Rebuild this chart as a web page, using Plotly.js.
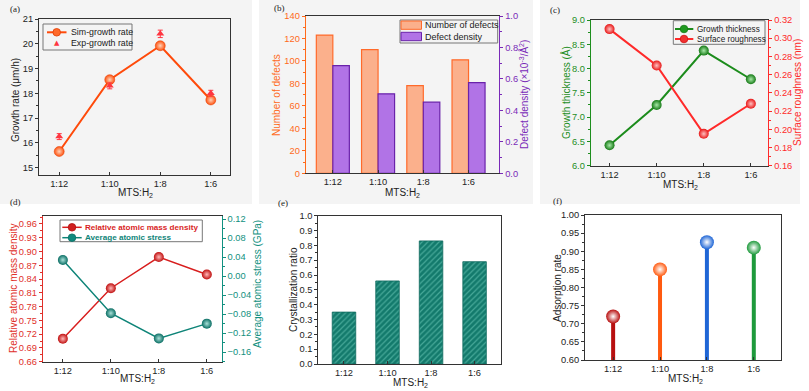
<!DOCTYPE html>
<html><head><meta charset="utf-8">
<script src="https://cdn.plot.ly/plotly-3.0.1.min.js"></script>
<style>html,body{margin:0;padding:0;background:#fff}#chart{width:809px;height:391px}</style>
</head><body><div id="chart"></div>
<script>
// ---------- data ----------
const categories = ['1:12', '1:10', '1:8', '1:6'];
// (a)
const simGrowthRate = [15.65, 18.55, 19.92, 17.73];
const expGrowthRate = [16.25, 18.3, 20.4, 18.0];
const expGrowthErr = [0.12, 0.12, 0.15, 0.12];
// (b)
const numberOfDefects = [123, 110, 78, 101];
const defectDensity = [0.685, 0.505, 0.452, 0.576];
// (c)
const growthThickness = [6.42, 7.25, 8.37, 7.78];
const surfaceRoughness = [0.310, 0.270, 0.195, 0.228];
// (d)
const relMassDensity = [0.710, 0.820, 0.888, 0.850];
const avgAtomicStress = [0.034, -0.078, -0.131, -0.100];
// (e)
const crystallizationRatio = [0.35, 0.56, 0.83, 0.69];
// (f)
const adsorptionRate = [0.72, 0.85, 0.925, 0.91];

// ---------- helpers ----------
const W = 809, H = 391;
const px = (a, b) => [a / W, b / W];
const py = (top, bottom) => [1 - bottom / H, 1 - top / H];
const FONT = 'Liberation Sans, Arial, sans-serif';
const tickF = (c) => ({family: FONT, size: 9.3, color: c || '#222'});
const XT = 'MTS:H<sub>2</sub>';

function xax(dom, anchor, range) {
  return {domain: dom, anchor: anchor, type: 'category', range: range,
    showline: true, linecolor: '#333', linewidth: 1, mirror: true,
    ticks: 'inside', ticklen: 3, tickcolor: '#333', tickfont: tickF(),
    showgrid: false, zeroline: false, automargin: false};
}
function yax(dom, anchor, range, dtick, fmt, color, side, mirror, overlay, tick0) {
  const o = {domain: dom, anchor: anchor, range: range, dtick: dtick, tick0: tick0 !== undefined ? tick0 : range[0],
    tickformat: fmt, showline: true, linecolor: color || '#333', linewidth: 1, mirror: mirror || false,
    ticks: 'outside', ticklen: 3, tickcolor: color || '#333', tickfont: tickF(color),
    minor: {ticks: 'outside', ticklen: 2, tickcolor: color || '#333', dtick: dtick / 2, showgrid: false},
    showgrid: false, zeroline: false, automargin: false, side: side || 'left'};
  if (overlay) o.overlaying = overlay;
  return o;
}

const traces = [];
// (a)
traces.push({x: categories, y: simGrowthRate, xaxis: 'x', yaxis: 'y', type: 'scatter', mode: 'lines+markers',
  name: 'Sim-growth rate',
  line: {color: '#ff4a0a', width: 2},
  marker: {size: 10, color: '#ff520f', line: {color: '#e03a00', width: 0.5}, gradient: {type: 'radial', color: '#ffd2b8'}}});
traces.push({x: categories, y: expGrowthRate, xaxis: 'x', yaxis: 'y', type: 'scatter', mode: 'markers',
  name: 'Exp-growth rate',
  marker: {symbol: 'triangle-up', size: 7, color: '#ff3540'},
  error_y: {type: 'data', array: expGrowthErr, visible: true, color: '#ff3540', thickness: 1, width: 2.5}});
// (b)
traces.push({x: categories, y: numberOfDefects, xaxis: 'x2', yaxis: 'y2', type: 'bar', name: 'Number of defects',
  offsetgroup: '1', marker: {color: '#fbb08c', line: {color: '#ff6a2a', width: 1.2}}});
traces.push({x: categories, y: defectDensity, xaxis: 'x2', yaxis: 'y3', type: 'bar', name: 'Defect density',
  offsetgroup: '2', marker: {color: '#b173e6', line: {color: '#6a22aa', width: 1.2}}});
// (c)
traces.push({x: categories, y: growthThickness, xaxis: 'x3', yaxis: 'y4', type: 'scatter', mode: 'lines+markers',
  name: 'Growth thickness', line: {color: '#1c8c1c', width: 2},
  marker: {size: 10, color: '#157a15', gradient: {type: 'radial', color: '#a8e8a8'}}});
traces.push({x: categories, y: surfaceRoughness, xaxis: 'x3', yaxis: 'y5', type: 'scatter', mode: 'lines+markers',
  name: 'Surface roughness', line: {color: '#ff2a2a', width: 2},
  marker: {size: 10, color: '#e81818', gradient: {type: 'radial', color: '#ffc0c0'}}});
// (d)
traces.push({x: categories, y: relMassDensity, xaxis: 'x4', yaxis: 'y6', type: 'scatter', mode: 'lines+markers',
  name: 'Relative atomic mass density', line: {color: '#d81e1e', width: 1.5},
  marker: {size: 10, color: '#c01010', gradient: {type: 'radial', color: '#ffb8b8'}}});
traces.push({x: categories, y: avgAtomicStress, xaxis: 'x4', yaxis: 'y7', type: 'scatter', mode: 'lines+markers',
  name: 'Average atomic stress', line: {color: '#0e8478', width: 1.5},
  marker: {size: 10, color: '#0a6e64', gradient: {type: 'radial', color: '#a8e0d8'}}});
// (e)
traces.push({x: categories, y: crystallizationRatio, xaxis: 'x5', yaxis: 'y8', type: 'bar', width: 0.54,
  marker: {color: '#137a6c', line: {color: '#0f6a5e', width: 0.8},
    pattern: {shape: '/', fgcolor: '#46a898', bgcolor: '#137a6c', size: 4, solidity: 0.3}}});
// (f)
const fColors = ['#b80f0f', '#ff5a10', '#1f66d6', '#1e9a3c'];
traces.push({x: categories, y: adsorptionRate, xaxis: 'x6', yaxis: 'y9', type: 'bar', width: 0.085,
  marker: {color: fColors}});
traces.push({x: categories, y: adsorptionRate, xaxis: 'x6', yaxis: 'y9', type: 'scatter', mode: 'markers',
  cliponaxis: false, marker: {size: 14, color: fColors, gradient: {type: 'radial', color: '#ffffff'}}});

// ---------- text helpers (pixel -> paper) ----------
const ann = [];
const shp = [];
function T(text, x, y, opts) {
  opts = opts || {};
  ann.push({text: text, x: x / W, y: 1 - y / H, xref: 'paper', yref: 'paper', showarrow: false,
    xanchor: opts.xa || 'center', yanchor: 'middle', textangle: opts.angle || 0,
    font: {family: opts.family || FONT, size: opts.size || 10, color: opts.color || '#222'}});
}
function box(x0, y0, x1, y1, fill, line) {
  shp.push({type: 'rect', xref: 'paper', yref: 'paper', x0: x0 / W, x1: x1 / W, y0: 1 - y1 / H, y1: 1 - y0 / H,
    fillcolor: fill || 'rgba(0,0,0,0)', line: line || {width: 0}, layer: fill && !line ? 'below' : 'above'});
}
function seg(xa, xb, y, color, w) {
  shp.push({type: 'line', xref: 'paper', yref: 'paper', x0: xa / W, x1: xb / W, y0: 1 - y / H, y1: 1 - y / H,
    line: {color: color, width: w || 2}});
}
function dot(cx, cy, r, color, edge) {
  shp.push({type: 'circle', xref: 'paper', yref: 'paper', x0: (cx - r) / W, x1: (cx + r) / W,
    y0: 1 - (cy + r) / H, y1: 1 - (cy - r) / H, fillcolor: color, line: {color: edge || color, width: 0.8}});
}

// backgrounds of top row
box(0, 0, 252, 204, '#f4f4f4');
box(259, 0, 533, 204, '#f4f4f4');
box(540, 0, 800, 204, '#f4f4f4');

// panel labels
[['(a)', 8, 9], ['(b)', 272, 8], ['(c)', 548, 10], ['(d)', 8, 202], ['(e)', 276, 203], ['(f)', 551, 201]]
  .forEach(a => T(a[0], a[1], a[2], {xa: 'left', size: 9, family: 'Liberation Serif, serif'}));

// axis titles
T(XT, 135, 193); T(XT, 402, 193); T(XT, 680, 185);
T(XT, 137, 379); T(XT, 410, 383); T(XT, 685, 379);
T('Growth rate (μm/h)', 16, 100, {angle: -90});
T('Number of defects', 277, 95, {angle: -90, color: '#ff6a1a'});
T('Defect density (×10<sup>-3</sup>/Å<sup>2</sup>)', 524, 95, {angle: -90, color: '#7a2ab8'});
T('Growth thickness (Å)', 566, 93, {angle: -90, color: '#1e8e1e'});
T('Surface roughness (nm)', 797, 93, {angle: -90, color: '#ff2a2a'});
T('Relative atomic mass density', 13, 288, {angle: -90, color: '#e0302a'});
T('Average atomic stress (GPa)', 257, 284, {angle: -90, color: '#119080'});
T('Crystallization ratio', 293, 290, {angle: -90});
T('Adsorption rate', 557, 288, {angle: -90});

// legends
// (a)
box(43, 24, 132, 50, null, {color: '#777', width: 1});
seg(47, 66.5, 32.3, '#ff4a0a', 2); dot(56.7, 32.3, 3.8, '#ff6a2a', '#e03a00');
T('▲', 57.3, 42.5, {size: 7, color: '#ff3540', family: 'DejaVu Sans'});
T('Sim-growth rate', 68.5, 32.3, {xa: 'left', size: 8.8});
T('Exp-growth rate', 68.5, 42.7, {xa: 'left', size: 8.8});
// (b)
box(400, 20, 497.7, 43, null, {color: '#777', width: 1});
box(401, 21, 421.5, 29.3, '#fbb08c', {color: '#ff6a2a', width: 1});
box(401, 32.3, 421.5, 40.7, '#b173e6', {color: '#6a22aa', width: 1});
T('Number of defects', 423.3, 25, {xa: 'left', size: 9});
T('Defect density', 423.3, 36.5, {xa: 'left', size: 9});
// (c)
box(673.3, 20.7, 765, 44.3, null, {color: '#777', width: 1});
seg(675, 693.3, 29, '#1c8c1c', 2); dot(684, 29, 3.8, '#1f9a1f', '#157a15');
seg(675, 693.3, 39, '#ff2a2a', 2); dot(684, 39, 3.8, '#f03030', '#d01010');
T('Growth thickness', 695, 29, {xa: 'left', size: 8.2});
T('Surface roughness', 695, 39, {xa: 'left', size: 8.2});
// (d)
box(60, 220, 202.3, 241.7, null, {color: '#777', width: 1});
seg(62.3, 81.7, 227.3, '#d81e1e', 1.5); dot(72, 227.3, 3.8, '#d02020', '#b01010');
seg(62.3, 81.7, 237.7, '#0e8478', 1.5); dot(72, 237.7, 3.8, '#0f8a7e', '#0a6e64');
T('<b>Relative atomic mass density</b>', 83.3, 227.3, {xa: 'left', size: 8.1, color: '#d81e1e'});
T('<b>Average atomic stress</b>', 83.3, 237.7, {xa: 'left', size: 8.1, color: '#0e8478'});

const layout = {
  width: W, height: H, margin: {l: 0, r: 0, t: 0, b: 0},
  paper_bgcolor: '#ffffff', plot_bgcolor: 'rgba(0,0,0,0)', showlegend: false,
  font: {family: FONT}, barmode: 'group', bargap: 0.27, bargroupgap: 0,
  xaxis: xax(px(39, 230), 'y', [-0.4, 3.38]),
  yaxis: yax(py(19, 175), 'x', [14.7, 21], 1, 'd', null, 'left', true, null, 15),
  xaxis2: xax(px(305.7, 499.3), 'y2', [-0.6, 3.68]),
  yaxis2: yax(py(16, 173.3), 'x2', [0, 140], 20, 'd', '#ff6a1a'),
  yaxis3: yax(py(16, 173.3), 'x2', [0, 1.0], 0.2, '.1f', '#7a2ab8', 'right', false, 'y2'),
  xaxis3: xax(px(590.7, 768.3), 'y4', [-0.4, 3.37]),
  yaxis4: yax(py(20, 165.7), 'x3', [6.0, 9.0], 0.5, '.1f', '#1e8e1e'),
  yaxis5: yax(py(20, 165.7), 'x3', [0.16, 0.32], 0.02, '.2f', '#ff2a2a', 'right', false, 'y4'),
  xaxis4: xax(px(42.7, 221.7), 'y6', [-0.42, 3.31]),
  yaxis6: yax(py(215.7, 361.7), 'x4', [0.66, 0.978], 0.03, '.2f', '#e0302a'),
  yaxis7: yax(py(215.7, 361.7), 'x4', [-0.18, 0.127], 0.04, '.2f', '#119080', 'right', false, 'y6', -0.16),
  xaxis5: xax(px(318.3, 500.7), 'y8', [-0.59, 3.6]),
  yaxis8: yax(py(215.7, 364), 'x5', [0, 1.0], 0.1, '.1f', null, 'left', true),
  xaxis6: xax(px(585, 781), 'y9', [-0.6, 3.58]),
  yaxis9: yax(py(215, 360), 'x6', [0.6, 1.0], 0.05, '.2f', null, 'left', true),
  shapes: shp,
  annotations: ann
};

Plotly.newPlot('chart', traces, layout, {displayModeBar: false, staticPlot: true});
</script></body></html>
